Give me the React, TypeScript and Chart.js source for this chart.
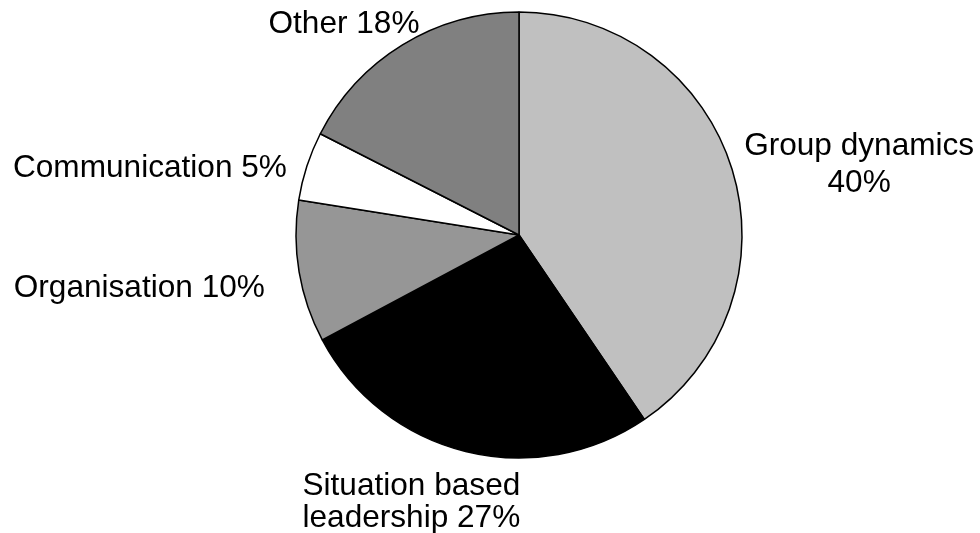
import React, { useEffect, useRef } from "react";
import { Chart, registerables } from "chart.js";

Chart.register(...registerables);

const categories = ["Group dynamics", "Situation based leadership", "Organisation", "Communication", "Other"];
const values = [40.5, 26.7, 10.3, 5.0, 17.5];
const sliceColors = ["#c0c0c0", "#000000", "#969696", "#ffffff", "#808080"];
const labelLines = [
  ["Group dynamics", "40%"],
  ["Situation based", "leadership 27%"],
  ["Organisation 10%"],
  ["Communication 5%"],
  ["Other 18%"],
];

// label placement relative to the slice's outer mid-point (style only)
const labelPlacement = [
  { align: "center", dx: 127, dy: -14.3, lh: 37 },
  { align: "center", dx: -54.2, dy: 43.1, lh: 32 },
  { align: "right", dx: -34.2, dy: 24.8, lh: 32 },
  { align: "right", dx: -20, dy: 10.7, lh: 32 },
  { align: "right", dx: 17, dy: -12.2, lh: 32 },
];

const outsideLabels = {
  id: "outsideLabels",
  afterDatasetsDraw(chart: any) {
    const ctx = chart.ctx;
    const meta = chart.getDatasetMeta(0);
    ctx.save();
    ctx.font = '31.6px "Liberation Sans", Arial, sans-serif';
    ctx.fillStyle = "#000";
    ctx.textBaseline = "alphabetic";
    meta.data.forEach((arc: any, i: number) => {
      const p = arc.getProps(["x", "y", "startAngle", "endAngle", "outerRadius"], true);
      const mid = (p.startAngle + p.endAngle) / 2;
      const ax = p.x + Math.cos(mid) * p.outerRadius;
      const ay = p.y + Math.sin(mid) * p.outerRadius;
      const pl = labelPlacement[i];
      ctx.textAlign = pl.align;
      labelLines[i].forEach((line, j) => {
        ctx.fillText(line, ax + pl.dx, ay + pl.dy + j * pl.lh);
      });
    });
    ctx.restore();
  },
};

export default function App() {
  const ref = useRef<HTMLCanvasElement | null>(null);
  useEffect(() => {
    if (!ref.current) return;
    const chart = new Chart(ref.current, {
      type: "pie",
      data: {
        labels: categories,
        datasets: [
          {
            data: values,
            backgroundColor: sliceColors,
            borderColor: "#000000",
            borderWidth: 1.5,
            borderAlign: "center",
            radius: 223,
          } as any,
        ],
      },
      options: {
        responsive: false,
        animation: false,
        layout: { padding: { left: 58, right: 0, top: 0, bottom: 63 } },
        plugins: {
          legend: { display: false },
          tooltip: { enabled: false },
        },
      },
      plugins: [outsideLabels],
    });
    return () => chart.destroy();
  }, []);
  return (
    <div style={{ position: "fixed", left: 0, top: 0, width: 980, height: 533, background: "#fff" }}>
      <canvas ref={ref} width={980} height={533} />
    </div>
  );
}
